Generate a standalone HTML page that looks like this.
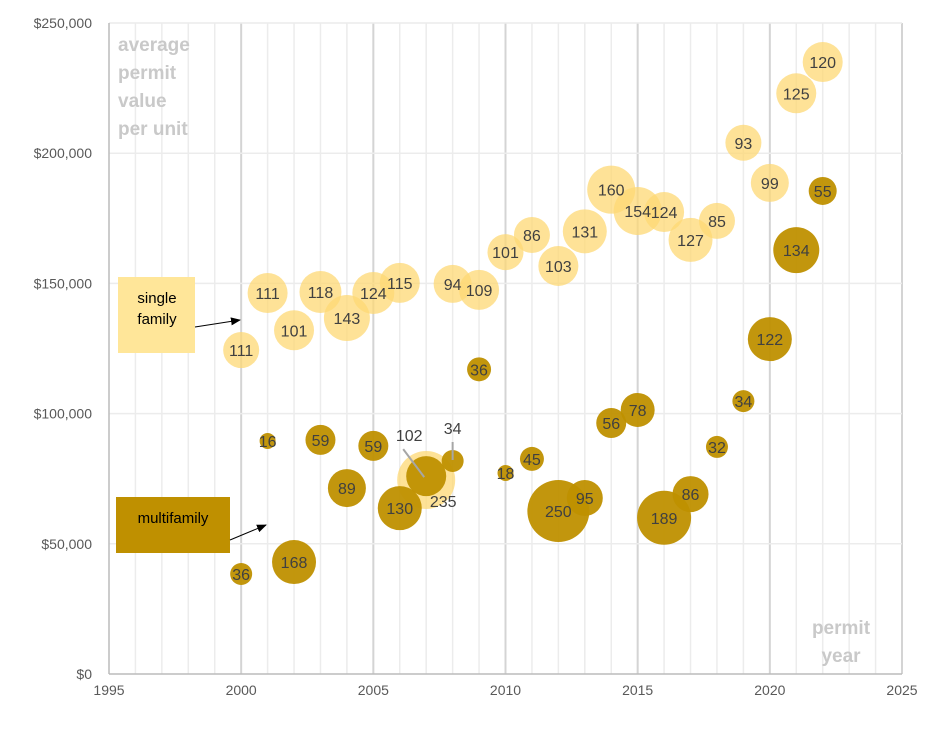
<!DOCTYPE html>
<html><head><meta charset="utf-8"><style>
body{margin:0;background:#fff;font-family:"Segoe UI","Liberation Sans",sans-serif}
svg text{font-family:"Liberation Sans",sans-serif}
</style></head><body>
<svg id="c" width="944" height="724"></svg>
<script>
const years=[2000,2001,2002,2003,2004,2005,2006,2007,2008,2009,2010,2011,2012,2013,2014,2015,2016,2017,2018,2019,2020,2021,2022];
const sfValues=[124.4,146.3,132,146.7,136.7,146.3,150.2,74.5,149.8,147.5,162,168.6,156.7,170,186,177.8,177.4,166.7,174,204,188.6,223,235];
const sfLabels=[111,111,101,118,143,124,115,235,94,109,101,86,103,131,160,154,124,127,85,93,99,125,120];
const sfSizes=[324,400,400,441,529,441,400,841,361,400,324,324,400,484,576,576,400,484,324,324,361,400,400];
const mfValues=[38.4,89.5,43,89.9,71.4,87.6,63.7,76,81.8,117,77.2,82.6,62.6,67.6,96.4,101.4,60,69.1,87.2,104.8,128.6,162.8,185.5];
const mfLabels=[36,16,168,59,89,59,130,102,34,36,18,45,250,95,56,78,189,86,32,34,122,134,55];
const mfSizes=[121,64,484,225,361,225,484,400,121,144,64,144,961,324,225,289,729,324,121,121,484,529,196];
const xTicks=[1995,2000,2005,2010,2015,2020,2025];
const yTicks=[0,50,100,150,200,250];
const yTickLabels=["$0","$50,000","$100,000","$150,000","$200,000","$250,000"];
const NS="http://www.w3.org/2000/svg";
const svg=document.getElementById('c');
const X0=109,X1=902,Y0=674,Y1=23;
function xs(v){return X0+(v-1995)*(X1-X0)/30;}
function ys(v){return Y0-v*(Y0-Y1)/250;}
function el(t,a,p){const e=document.createElementNS(NS,t);for(const k in a)e.setAttribute(k,a[k]);(p||svg).appendChild(e);return e;}
// grid
for(let yr=1996;yr<=2025;yr++){
 const major=yr%5===0;
 const g=el('line',{x1:xs(yr),x2:xs(yr),y1:Y1,y2:Y0,stroke:major?'#d4d4d4':'#ececec','stroke-width':major?2:1.5});
 
 
}
yTicks.forEach((v,i)=>{
 const g=el('line',{x1:X0,x2:X1,y1:ys(v),y2:ys(v),stroke:i===0?'#bbb':'#ececec','stroke-width':1.5});
 
 
 const t=el('text',{x:92,y:ys(v)+5,'text-anchor':'end','font-size':14,fill:'#595959'});
 t.textContent=yTickLabels[i];
 
 
});
el('line',{x1:X0,x2:X0,y1:Y1,y2:Y0,stroke:'#bbb','stroke-width':1.5});
xTicks.forEach(v=>{
 const t=el('text',{x:xs(v),y:Y0+21,'text-anchor':'middle','font-size':14,fill:'#595959'});
 t.textContent=v;
 
 
});
function bubbles(vals,labels,sizes,fill,op,name){
 years.forEach((yr,i)=>{
  const c=el('circle',{cx:xs(yr),cy:ys(vals[i]),r:Math.sqrt(sizes[i]),fill:fill,'fill-opacity':op});
  
  
 });
}
function labelsFor(vals,labels,name,skip){
 years.forEach((yr,i)=>{
  if(skip.includes(yr))return;
  const t=el('text',{x:xs(yr),y:ys(vals[i])+6,'text-anchor':'middle','font-size':16,fill:'#404040'});
  t.textContent=labels[i];
  
  
 });
}
bubbles(sfValues,sfLabels,sfSizes,'#fed874',0.75,'single-family');
bubbles(mfValues,mfLabels,mfSizes,'#bf9000',0.95,'multifamily');
labelsFor(sfValues,sfLabels,'single-family',[2007]);
labelsFor(mfValues,mfLabels,'multifamily',[2007,2008]);
// special labels
const i7=years.indexOf(2007),i8=years.indexOf(2008);
let t=el('text',{x:xs(2007)+17,y:ys(sfValues[i7])+27,'text-anchor':'middle','font-size':16,fill:'#404040'});t.textContent=sfLabels[i7];

el('line',{x1:xs(2007)-23,y1:ys(mfValues[i7])-27,x2:xs(2007)-2,y2:ys(mfValues[i7])+1,stroke:'#a6a6a6','stroke-width':2});
t=el('text',{x:xs(2007)-17,y:ys(mfValues[i7])-35,'text-anchor':'middle','font-size':16,fill:'#404040'});t.textContent=mfLabels[i7];

el('line',{x1:xs(2008),y1:ys(mfValues[i8])-19,x2:xs(2008),y2:ys(mfValues[i8])-1,stroke:'#a6a6a6','stroke-width':2});
t=el('text',{x:xs(2008),y:ys(mfValues[i8])-27,'text-anchor':'middle','font-size':16,fill:'#404040'});t.textContent=mfLabels[i8];

</script>
<svg width="944" height="724" style="position:absolute;left:0;top:0">
<defs><marker id="ah" markerWidth="10" markerHeight="8" refX="9" refY="4" orient="auto"><path d="M0,0 L10,4 L0,8z" fill="#000"/></marker></defs>
<g font-family="Liberation Sans,sans-serif" font-weight="bold" font-size="19" fill="#c9c9c9">
<text x="118" y="51">average</text><text x="118" y="79">permit</text><text x="118" y="107">value</text><text x="118" y="135">per unit</text></g>
<g font-family="Liberation Sans,sans-serif" font-weight="bold" font-size="19" fill="#c9c9c9" text-anchor="middle">
<text x="841" y="634">permit</text><text x="841" y="662">year</text></g>
<rect x="118" y="277" width="77" height="76" fill="#ffe699"/>
<text x="157" y="303" font-family="Liberation Sans,sans-serif" font-size="15" text-anchor="middle">single</text>
<text x="157" y="324" font-family="Liberation Sans,sans-serif" font-size="15" text-anchor="middle">family</text>
<line x1="195" y1="327" x2="240" y2="320" stroke="#000" stroke-width="1" marker-end="url(#ah)"/>
<rect x="116" y="497" width="114" height="56" fill="#bf9000"/>
<text x="173" y="523" font-family="Liberation Sans,sans-serif" font-size="15" text-anchor="middle">multifamily</text>
<line x1="230" y1="540" x2="266" y2="525" stroke="#000" stroke-width="1" marker-end="url(#ah)"/>
</svg>
</body></html>
